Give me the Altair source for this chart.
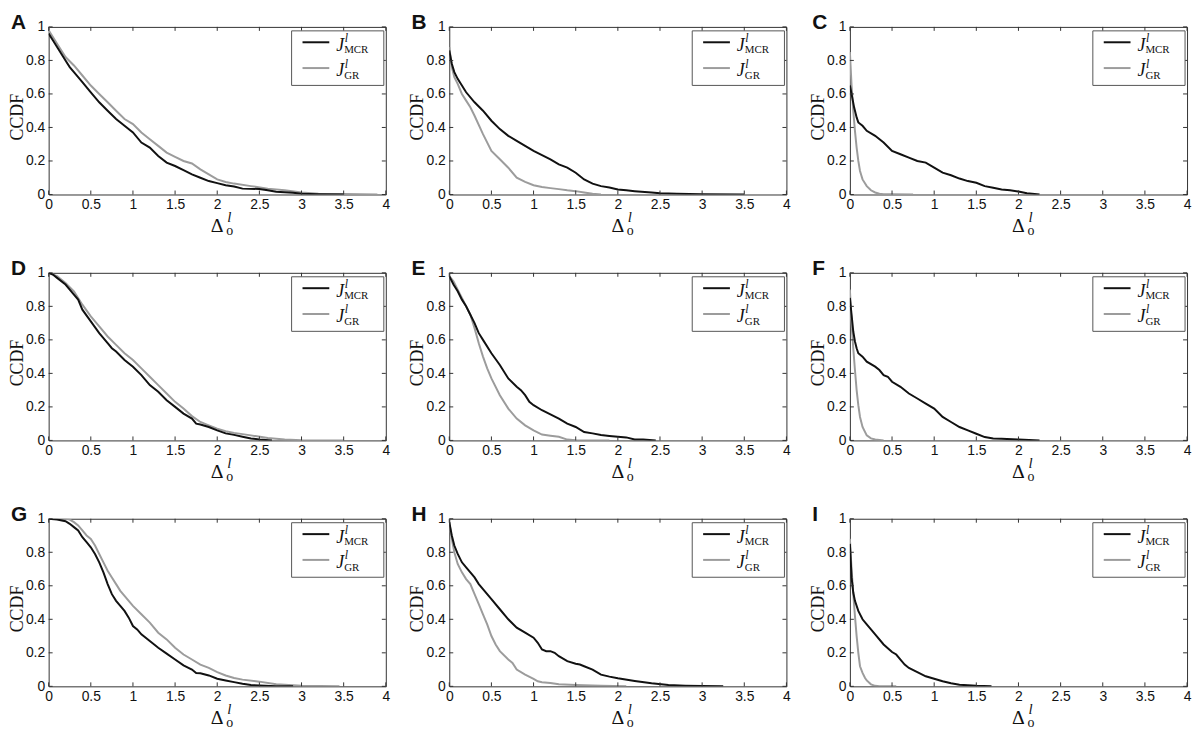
import altair as alt
import pandas as pd

X_TICKS = [0, 0.5, 1, 1.5, 2, 2.5, 3, 3.5, 4]
Y_TICKS = [0, 0.2, 0.4, 0.6, 0.8, 1]
PANELS = ["A", "B", "C", "D", "E", "F", "G", "H", "I"]
Y_TITLE = "CCDF"

A_MCR_X = [0, 0.05, 0.1, 0.2, 0.25, 0.3, 0.4, 0.5, 0.6, 0.7, 0.8, 0.9, 1.0, 1.1, 1.2, 1.3, 1.4, 1.5, 1.6, 1.7, 1.8, 1.9, 2.0, 2.1, 2.2, 2.3, 2.5, 2.6, 2.7, 2.8, 2.9, 3.0, 3.2, 3.5]
A_MCR_Y = [0.96, 0.92, 0.88, 0.80, 0.76, 0.73, 0.67, 0.61, 0.55, 0.50, 0.45, 0.41, 0.37, 0.31, 0.28, 0.23, 0.19, 0.17, 0.145, 0.12, 0.10, 0.08, 0.068, 0.055, 0.048, 0.035, 0.033, 0.025, 0.017, 0.013, 0.01, 0.004, 0.002, 0.0]
A_GR_X = [0, 0.1, 0.2, 0.3, 0.4, 0.5, 0.6, 0.7, 0.8, 0.9, 1.0, 1.1, 1.2, 1.3, 1.4, 1.5, 1.6, 1.7, 1.8, 1.9, 2.0, 2.1, 2.2, 2.4, 2.6, 2.8, 3.0, 3.2, 3.5, 3.9]
A_GR_Y = [0.98, 0.90, 0.82, 0.77, 0.71, 0.65, 0.60, 0.55, 0.50, 0.45, 0.42, 0.37, 0.33, 0.29, 0.25, 0.225, 0.20, 0.185, 0.15, 0.12, 0.09, 0.075, 0.065, 0.05, 0.035, 0.025, 0.012, 0.005, 0.003, 0.0]

B_MCR_X = [0, 0.03, 0.06, 0.1, 0.15, 0.2, 0.3, 0.4, 0.5, 0.6, 0.7, 0.8, 0.9, 1.0, 1.1, 1.2, 1.3, 1.4, 1.5, 1.6, 1.7, 1.8, 1.9, 2.0, 2.1, 2.2, 2.4, 2.5, 2.7, 3.0, 3.5]
B_MCR_Y = [0.86, 0.78, 0.73, 0.69, 0.65, 0.61, 0.55, 0.50, 0.44, 0.39, 0.35, 0.32, 0.29, 0.26, 0.235, 0.21, 0.18, 0.16, 0.13, 0.09, 0.065, 0.05, 0.042, 0.03, 0.025, 0.02, 0.012, 0.008, 0.004, 0.001, 0.0]
B_GR_X = [0, 0.03, 0.06, 0.1, 0.15, 0.2, 0.25, 0.3, 0.4, 0.5, 0.6, 0.7, 0.8, 0.9, 1.0, 1.1, 1.2, 1.3, 1.4, 1.5, 1.6, 1.7, 1.8]
B_GR_Y = [0.88, 0.76, 0.70, 0.66, 0.60, 0.56, 0.52, 0.47, 0.36, 0.26, 0.21, 0.16, 0.10, 0.075, 0.055, 0.045, 0.038, 0.032, 0.025, 0.02, 0.012, 0.004, 0.0]

C_MCR_X = [0, 0.02, 0.05, 0.08, 0.1, 0.15, 0.2, 0.3, 0.4, 0.5, 0.6, 0.7, 0.8, 0.9, 1.0, 1.1, 1.2, 1.3, 1.4, 1.5, 1.6, 1.7, 1.8, 1.9, 2.0, 2.1, 2.25]
C_MCR_Y = [0.65, 0.60, 0.52, 0.46, 0.43, 0.41, 0.38, 0.35, 0.31, 0.26, 0.24, 0.22, 0.20, 0.19, 0.16, 0.13, 0.115, 0.095, 0.08, 0.07, 0.05, 0.04, 0.03, 0.025, 0.018, 0.008, 0.0]
C_GR_X = [0, 0.02, 0.04, 0.06, 0.08, 0.1, 0.12, 0.15, 0.2, 0.25, 0.3, 0.35, 0.4, 0.5, 0.75]
C_GR_Y = [0.85, 0.65, 0.50, 0.38, 0.28, 0.20, 0.14, 0.09, 0.05, 0.025, 0.012, 0.005, 0.002, 0.001, 0.0]

D_MCR_X = [0, 0.05, 0.1, 0.2, 0.3, 0.35, 0.4, 0.5, 0.6, 0.7, 0.75, 0.8, 0.9, 1.0, 1.1, 1.2, 1.3, 1.4, 1.5, 1.6, 1.7, 1.75, 1.8, 1.9, 2.0, 2.1, 2.2, 2.3, 2.4, 2.5, 2.65]
D_MCR_Y = [1.0, 0.99, 0.97, 0.93, 0.87, 0.84, 0.78, 0.71, 0.64, 0.58, 0.55, 0.53, 0.48, 0.44, 0.39, 0.33, 0.29, 0.24, 0.20, 0.16, 0.13, 0.10, 0.095, 0.08, 0.06, 0.042, 0.033, 0.022, 0.012, 0.005, 0.0]
D_GR_X = [0, 0.1, 0.2, 0.3, 0.4, 0.5, 0.6, 0.7, 0.8, 0.9, 1.0, 1.1, 1.2, 1.3, 1.4, 1.5, 1.6, 1.7, 1.8, 1.9, 2.0, 2.1, 2.2, 2.4, 2.6, 2.8, 3.0, 3.5]
D_GR_Y = [1.0, 0.98, 0.94, 0.89, 0.81, 0.74, 0.68, 0.62, 0.57, 0.52, 0.48, 0.43, 0.38, 0.33, 0.28, 0.23, 0.19, 0.145, 0.11, 0.09, 0.07, 0.055, 0.045, 0.03, 0.015, 0.005, 0.001, 0.0]

E_MCR_X = [0, 0.05, 0.1, 0.15, 0.2, 0.25, 0.3, 0.35, 0.4, 0.5, 0.6, 0.7, 0.8, 0.85, 0.9, 0.95, 1.0, 1.1, 1.2, 1.3, 1.4, 1.5, 1.6, 1.7, 1.8, 1.9, 2.0, 2.1, 2.2, 2.3, 2.45]
E_MCR_Y = [0.98, 0.93, 0.89, 0.84, 0.80, 0.75, 0.70, 0.64, 0.60, 0.52, 0.45, 0.37, 0.32, 0.30, 0.27, 0.23, 0.21, 0.18, 0.155, 0.13, 0.10, 0.08, 0.05, 0.042, 0.032, 0.027, 0.022, 0.018, 0.006, 0.005, 0.0]
E_GR_X = [0, 0.05, 0.1, 0.15, 0.2, 0.25, 0.3, 0.35, 0.4, 0.45, 0.5, 0.6, 0.7, 0.8, 0.9, 1.0, 1.1, 1.2, 1.3, 1.4, 1.5, 1.9]
E_GR_Y = [0.98, 0.95, 0.90, 0.85, 0.80, 0.75, 0.67, 0.58, 0.50, 0.43, 0.37, 0.27, 0.19, 0.13, 0.09, 0.06, 0.035, 0.028, 0.022, 0.005, 0.001, 0.0]

F_MCR_X = [0, 0.02, 0.04, 0.06, 0.08, 0.1, 0.15, 0.2, 0.3, 0.35, 0.4, 0.45, 0.5, 0.6, 0.7, 0.8, 0.9, 1.0, 1.1, 1.2, 1.3, 1.4, 1.5, 1.6, 1.7, 1.8, 2.0, 2.25]
F_MCR_Y = [0.85, 0.75, 0.65, 0.59, 0.55, 0.52, 0.50, 0.47, 0.44, 0.42, 0.39, 0.38, 0.35, 0.32, 0.28, 0.25, 0.22, 0.19, 0.14, 0.11, 0.08, 0.06, 0.04, 0.02, 0.012, 0.01, 0.005, 0.0]
F_GR_X = [0, 0.02, 0.04, 0.06, 0.08, 0.1, 0.12, 0.15, 0.2, 0.25, 0.3, 0.4]
F_GR_Y = [0.90, 0.70, 0.55, 0.42, 0.30, 0.21, 0.14, 0.08, 0.03, 0.012, 0.005, 0.0]

G_MCR_X = [0, 0.1, 0.2, 0.25, 0.3, 0.35, 0.4, 0.45, 0.5, 0.55, 0.6, 0.65, 0.7, 0.75, 0.8, 0.85, 0.9, 0.95, 1.0, 1.05, 1.1, 1.2, 1.3, 1.4, 1.5, 1.6, 1.7, 1.75, 1.8, 1.9, 2.0, 2.1, 2.2, 2.3, 2.4, 2.5, 2.7, 2.9]
G_MCR_Y = [1.0, 0.995, 0.985, 0.97, 0.95, 0.93, 0.89, 0.86, 0.83, 0.79, 0.74, 0.68, 0.61, 0.55, 0.51, 0.48, 0.45, 0.41, 0.36, 0.34, 0.31, 0.27, 0.23, 0.195, 0.16, 0.125, 0.10, 0.08, 0.078, 0.065, 0.045, 0.035, 0.025, 0.015, 0.008, 0.005, 0.001, 0.0]
G_GR_X = [0, 0.1, 0.2, 0.25, 0.3, 0.35, 0.4, 0.45, 0.5, 0.55, 0.6, 0.65, 0.7, 0.75, 0.8, 0.85, 0.9, 1.0, 1.1, 1.2, 1.3, 1.4, 1.5, 1.6, 1.7, 1.8, 1.9, 2.0, 2.1, 2.2, 2.3, 2.5, 2.7, 3.0, 3.45]
G_GR_Y = [1.0, 1.0, 1.0, 0.995, 0.98, 0.96, 0.93, 0.90, 0.88, 0.84, 0.79, 0.74, 0.69, 0.65, 0.61, 0.57, 0.54, 0.48, 0.43, 0.38, 0.32, 0.28, 0.23, 0.19, 0.16, 0.13, 0.11, 0.085, 0.065, 0.05, 0.04, 0.028, 0.012, 0.003, 0.0]

H_MCR_X = [0, 0.03, 0.06, 0.1, 0.15, 0.2, 0.25, 0.3, 0.35, 0.4, 0.5, 0.6, 0.7, 0.8, 0.9, 1.0, 1.05, 1.1, 1.15, 1.2, 1.25, 1.3, 1.4, 1.5, 1.55, 1.6, 1.7, 1.8, 1.9, 2.0, 2.2, 2.4, 2.6, 2.8, 3.0, 3.25]
H_MCR_Y = [0.98, 0.90, 0.84, 0.79, 0.74, 0.71, 0.68, 0.65, 0.61, 0.58, 0.52, 0.46, 0.40, 0.35, 0.32, 0.29, 0.26, 0.22, 0.21, 0.21, 0.20, 0.18, 0.15, 0.135, 0.13, 0.12, 0.10, 0.07, 0.058, 0.048, 0.032, 0.018, 0.008, 0.004, 0.002, 0.0]
H_GR_X = [0, 0.03, 0.06, 0.1, 0.15, 0.2, 0.25, 0.3, 0.35, 0.4, 0.45, 0.5, 0.55, 0.6, 0.7, 0.75, 0.8, 0.9, 1.0, 1.05, 1.1, 1.2, 1.3, 1.5, 1.8, 2.1]
H_GR_Y = [0.98, 0.88, 0.80, 0.73, 0.68, 0.64, 0.61, 0.55, 0.49, 0.43, 0.37, 0.30, 0.25, 0.21, 0.16, 0.14, 0.10, 0.07, 0.045, 0.03, 0.025, 0.02, 0.012, 0.008, 0.003, 0.0]

I_MCR_X = [0, 0.02, 0.04, 0.06, 0.1, 0.15, 0.2, 0.3, 0.4, 0.5, 0.55, 0.6, 0.65, 0.7, 0.8, 0.9, 1.0, 1.1, 1.2, 1.3, 1.4, 1.5, 1.68]
I_MCR_Y = [0.85, 0.65, 0.56, 0.51, 0.45, 0.40, 0.37, 0.31, 0.25, 0.205, 0.19, 0.16, 0.13, 0.11, 0.085, 0.06, 0.045, 0.03, 0.018, 0.01, 0.006, 0.003, 0.0]
I_GR_X = [0, 0.02, 0.04, 0.06, 0.08, 0.1, 0.12, 0.15, 0.18, 0.2, 0.25, 0.3, 0.35, 0.55]
I_GR_Y = [0.88, 0.70, 0.55, 0.42, 0.30, 0.20, 0.12, 0.08, 0.05, 0.035, 0.012, 0.003, 0.001, 0.0]

SERIES_DATA = {
    "A": (A_MCR_X, A_MCR_Y, A_GR_X, A_GR_Y),
    "B": (B_MCR_X, B_MCR_Y, B_GR_X, B_GR_Y),
    "C": (C_MCR_X, C_MCR_Y, C_GR_X, C_GR_Y),
    "D": (D_MCR_X, D_MCR_Y, D_GR_X, D_GR_Y),
    "E": (E_MCR_X, E_MCR_Y, E_GR_X, E_GR_Y),
    "F": (F_MCR_X, F_MCR_Y, F_GR_X, F_GR_Y),
    "G": (G_MCR_X, G_MCR_Y, G_GR_X, G_GR_Y),
    "H": (H_MCR_X, H_MCR_Y, H_GR_X, H_GR_Y),
    "I": (I_MCR_X, I_MCR_Y, I_GR_X, I_GR_Y),
}

W, H = 340, 169
BLACK = "#111111"
GRAY = "#9c9c9c"
FRAME = "#333333"
SERIF = "Liberation Serif"
SANS = "Liberation Sans"

ONE = pd.DataFrame({"k": [0]})
XS = alt.Scale(domain=[0, 4], nice=False, zero=False)
YS = alt.Scale(domain=[0, 1], nice=False, zero=False)

X_AXIS = alt.Axis(values=X_TICKS, format="~g", title=None, ticks=False, domain=False,
                  grid=False, labelFont=SANS, labelFontSize=14, labelColor=BLACK,
                  labelPadding=3, labelFlush=False, labelOverlap=False)
Y_AXIS = alt.Axis(values=Y_TICKS, format="~g", title=None, ticks=False, domain=False,
                  grid=False, labelFont=SANS, labelFontSize=14, labelColor=BLACK,
                  labelPadding=4, labelFlush=False, labelOverlap=False)


def txt(s, x, y, size, style="normal", font=SERIF, weight="normal",
        align="left", baseline="alphabetic", angle=0):
    return alt.Chart(ONE).mark_text(
        text=s, font=font, fontSize=size, fontStyle=style, fontWeight=weight,
        align=align, baseline=baseline, angle=angle, color=BLACK
    ).encode(x=alt.value(x), y=alt.value(y))


def line_layer(xs, ys, color):
    df = pd.DataFrame({"x": xs, "y": ys, "o": list(range(len(xs)))})
    return alt.Chart(df).mark_line(color=color, strokeWidth=2, clip=True).encode(
        x=alt.X("x:Q", scale=XS, axis=X_AXIS),
        y=alt.Y("y:Q", scale=YS, axis=Y_AXIS),
        order="o:Q",
    )


def panel(letter):
    mx, my, gx, gy = SERIES_DATA[letter]
    xt = pd.DataFrame({"x": X_TICKS})
    yt = pd.DataFrame({"y": Y_TICKS})
    xenc = alt.X("x:Q", scale=XS, axis=X_AXIS)
    yenc = alt.Y("y:Q", scale=YS, axis=Y_AXIS)
    tick_bot = alt.Chart(xt).mark_rule(color=FRAME).encode(
        x=xenc, y=alt.value(H), y2=alt.value(H - 4))
    tick_top = alt.Chart(xt).mark_rule(color=FRAME).encode(
        x=xenc, y=alt.value(0), y2=alt.value(4))
    tick_left = alt.Chart(yt).mark_rule(color=FRAME).encode(
        y=yenc, x=alt.value(0), x2=alt.value(4))
    tick_right = alt.Chart(yt).mark_rule(color=FRAME).encode(
        y=yenc, x=alt.value(W), x2=alt.value(W - 4))

    box = alt.Chart(ONE).mark_rect(fill="white", stroke="#555555", strokeWidth=1).encode(
        x=alt.value(W - 95), x2=alt.value(W - 2), y=alt.value(4), y2=alt.value(59))
    leg_k = alt.Chart(ONE).mark_rule(color=BLACK, strokeWidth=2).encode(
        x=alt.value(W - 84), x2=alt.value(W - 57), y=alt.value(15.5))
    leg_g = alt.Chart(ONE).mark_rule(color=GRAY, strokeWidth=2).encode(
        x=alt.value(W - 84), x2=alt.value(W - 57), y=alt.value(41.5))

    layers = [
        line_layer(gx, gy, GRAY),
        line_layer(mx, my, BLACK),
        tick_bot, tick_top, tick_left, tick_right,
        box, leg_k, leg_g,
        txt("J", W - 50, 24, 18, style="italic"),
        txt("l", W - 41.5, 15, 12, style="italic"),
        txt("MCR", W - 42, 26.5, 11),
        txt("J", W - 50, 50, 18, style="italic"),
        txt("l", W - 41.5, 41, 12, style="italic"),
        txt("GR", W - 42, 52.5, 11),
        txt("\u0394", W / 2, H + 38, 20, align="center"),
        txt("l", W / 2 + 10, H + 28, 15, style="italic"),
        txt("o", W / 2 + 12.5, H + 41, 14, align="center"),
        txt(Y_TITLE, -26, 91, 18, align="center", baseline="alphabetic", angle=270),
        txt(letter, -38, 2, 21, font=SANS, weight="bold"),
    ]
    return alt.layer(*layers).properties(width=W, height=H)


chart = alt.concat(
    *[panel(p) for p in PANELS], columns=3,
    spacing={"row": 79, "column": 64}, bounds="flush"
).properties(padding=0).configure_view(stroke=FRAME, strokeWidth=1)

chart.save("out.html", embed_options={"renderer": "svg", "actions": False})
